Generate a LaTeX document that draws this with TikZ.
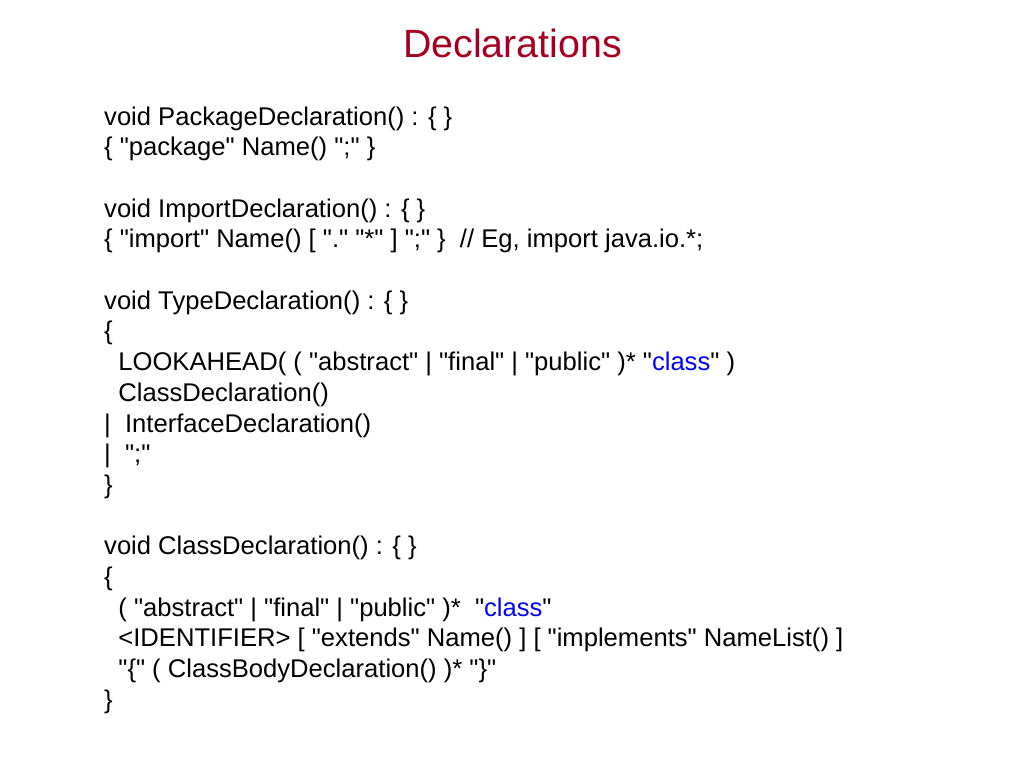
\documentclass[tikz,border=0pt]{standalone}
\usepackage{fontspec}
\setmainfont{Liberation Sans}[Ligatures=TeXOff]
\usetikzlibrary{positioning}
\definecolor{titlered}{HTML}{A50021}
\definecolor{kwblue}{HTML}{0000FF}
\newcommand{\kw}[1]{\textcolor{kwblue}{#1}}

\begin{document}
\begin{tikzpicture} [
    x=1pt, y=-1pt,
    title/.style = { anchor=base, inner sep=0pt, text=titlered,
                     font=\fontsize{39.4}{47}\selectfont },
    code/.style  = { anchor=base west, inner sep=0pt,
                     font=\fontsize{25.6}{30.7}\selectfont },
  ]
  \useasboundingbox (0,0) rectangle (1024,768);

  % title
  \node[title] (head) at (512.5,58) {Declarations};

  % PackageDeclaration
  \node[code] (pkg1) at (104,125)   {void PackageDeclaration() : \{ \}};
  \node[code] (pkg2) at (104,155.7) {\{ "package" Name() ";" \}};

  % ImportDeclaration
  \node[code] (imp1) at (104,217.1) {void ImportDeclaration() : \{ \}};
  \node[code] (imp2) at (104,247.8) {\{ "import" Name() [ "." "*" ] ";" \}\ \ // Eg, import java.io.*;};

  % TypeDeclaration
  \node[code] (typ1) at (104,309.2) {void TypeDeclaration() : \{ \}};
  \node[code] (typ2) at (104,339.9) {\{};
  \node[code] (typ3) at (104,370.6) {\ \ LOOKAHEAD( ( "abstract" | "final" | "public" )* "\kw{class}" )};
  \node[code] (typ4) at (104,401.3) {\ \ ClassDeclaration()};
  \node[code] (typ5) at (104,432)   {|\ \ InterfaceDeclaration()};
  \node[code] (typ6) at (104,462.7) {|\ \ ";"};
  \node[code] (typ7) at (104,493.4) {\}};

  % ClassDeclaration
  \node[code] (cls1) at (104,554.8) {void ClassDeclaration() : \{ \}};
  \node[code] (cls2) at (104,585.5) {\{};
  \node[code] (cls3) at (104,616.2) {\ \ ( "abstract" | "final" | "public" )*\ \ "\kw{class}"};
  \node[code] (cls4) at (104,646.9) {\ \ <IDENTIFIER> [ "extends" Name() ] [ "implements" NameList() ]};
  \node[code] (cls5) at (104,677.6) {\ \ "\{" ( ClassBodyDeclaration() )* "\}"};
  \node[code] (cls6) at (104,708.3) {\}};
\end{tikzpicture}
\end{document}
